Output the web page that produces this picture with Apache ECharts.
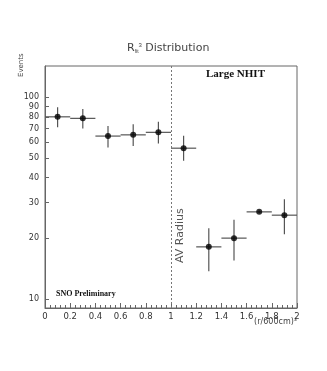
<!DOCTYPE html>
<html>
<head>
<meta charset="UTF-8">
<title></title>
<style>html,body{margin:0;padding:0;background:#fff;}#charts{width:327px;height:371px;}</style>
</head>
<body>
<div id="charts"></div>
<script src="https://cdn.jsdelivr.net/npm/echarts@6/dist/echarts.min.js"></script>
<script>
// bin centres, bin width 0.2
var binX = [0.1, 0.3, 0.5, 0.7, 0.9, 1.1, 1.3, 1.5, 1.7, 1.9];
var events = [80, 78.6, 64.2, 65.1, 67, 55.9, 18.1, 20, 27, 26];
var errLow = [71, 70, 56.4, 57.3, 59, 48.4, 13.7, 15.5, 26.6, 20.9];
var errHigh = [89.2, 87.5, 72, 73.4, 75.6, 64.4, 22.4, 24.7, 27.4, 31.2];
var halfWidth = 0.1;
var yTicks = [10, 20, 30, 40, 50, 60, 70, 80, 90, 100];
var avRadius = 1;

var mycharts = echarts.init(document.getElementById('charts'));

var pts = [], bars = [];
for (var i = 0; i < binX.length; i++) {
  pts.push([binX[i], events[i]]);
  bars.push([binX[i], events[i], errLow[i], errHigh[i]]);
}

var txt = '#333';
var option = {
  backgroundColor: '#fff',
  animation: false,
  grid: {left: 45, right: 30, top: 66, bottom: 63, show: true, borderColor: '#666', borderWidth: 1},
  xAxis: {
    type: 'value', min: 0, max: 2, interval: 0.2,
    axisLine: {show: true, lineStyle: {color: '#666'}},
    axisTick: {show: true, inside: true, length: 5, lineStyle: {color: '#666'}},
    minorTick: {show: true, splitNumber: 5, length: 3, lineStyle: {color: '#666'}},
    splitLine: {show: false},
    axisLabel: {color: txt, fontSize: 8.5, fontFamily: 'DejaVu Sans', margin: 4,
      formatter: function (v) { return +v.toFixed(1) + ''; }}
  },
  yAxis: {
    type: 'log', min: 9, max: 143,
    axisLine: {show: true, lineStyle: {color: '#666'}},
    axisTick: {show: true, inside: true, length: 4, customValues: yTicks, lineStyle: {color: '#666'}},
    minorTick: {show: false},
    splitLine: {show: false},
    axisLabel: {color: txt, fontSize: 8, fontFamily: 'DejaVu Sans', margin: 6, customValues: yTicks}
  },
  graphic: [
    {type: 'text', x: 127, y: 42,
      style: {text: '{r|R}{s|fit}{p|3} {r|Distribution}',
        rich: {r: {fontSize: 11, fill: '#444', fontFamily: 'DejaVu Sans'},
               s: {fontSize: 5, fill: '#444', verticalAlign: 'bottom', padding: [6, 0, 0, 0]},
               p: {fontSize: 6, fill: '#444', verticalAlign: 'top', padding: [0, 0, 6, 0]}}}},
    {type: 'text', x: 18, y: 77, rotation: Math.PI / 2,
      style: {text: 'Events', fontSize: 7, fill: '#444', fontFamily: 'DejaVu Sans'}},
    {type: 'text', x: 206, y: 69,
      style: {text: 'Large NHIT', fontSize: 11, fontWeight: 'bold', fill: '#111', fontFamily: 'Liberation Serif'}},
    {type: 'text', x: 56, y: 290,
      style: {text: 'SNO Preliminary', fontSize: 8, fontWeight: 'bold', fill: '#111', fontFamily: 'Liberation Serif'}},
    {type: 'text', x: 175, y: 263, rotation: Math.PI / 2,
      style: {text: 'AV Radius', fontSize: 11, fill: '#555', fontFamily: 'DejaVu Sans'}},
    {type: 'text', right: 30, top: 318,
      style: {text: '(r/600cm)³', fontSize: 8, fill: '#444', fontFamily: 'DejaVu Sans'}}
  ],
  series: [
    {
      type: 'custom',
      data: bars,
      z: 2,
      renderItem: function (params, api) {
        var x = api.value(0);
        var c = api.coord([x, api.value(1)]);
        var l = api.coord([x - halfWidth, api.value(1)]);
        var r = api.coord([x + halfWidth, api.value(1)]);
        var lo = api.coord([x, api.value(2)]);
        var hi = api.coord([x, api.value(3)]);
        var st = {stroke: '#555', lineWidth: 1.2};
        return {type: 'group', children: [
          {type: 'line', shape: {x1: l[0], y1: c[1], x2: r[0], y2: c[1]}, style: st},
          {type: 'line', shape: {x1: c[0], y1: lo[1], x2: c[0], y2: hi[1]}, style: st}
        ]};
      }
    },
    {
      type: 'scatter',
      data: pts,
      symbol: 'circle',
      symbolSize: 6,
      z: 3,
      itemStyle: {color: '#000'},
      markLine: {
        silent: true, symbol: 'none',
        label: {show: false},
        lineStyle: {color: '#777', type: [2, 2], width: 1},
        data: [{xAxis: avRadius}]
      }
    }
  ]
};
mycharts.setOption(option);
</script>
</body>
</html>
